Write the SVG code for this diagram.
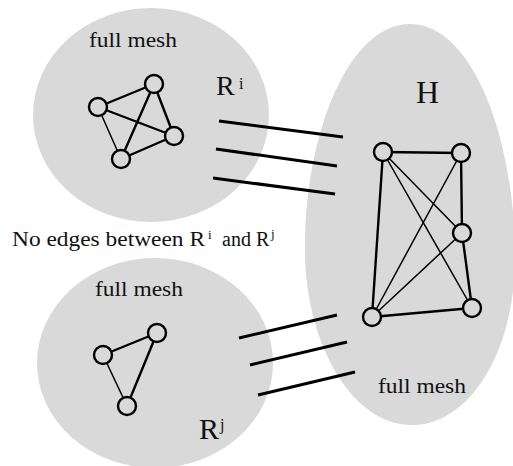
<svg xmlns="http://www.w3.org/2000/svg" width="513" height="466" viewBox="0 0 513 466">
<style>
.region{fill:#d9d9d9;stroke:none}
.node{fill:#d9d9d9;stroke:#000;stroke-width:2.4}
.e{stroke:#000;stroke-width:2.4;fill:none;stroke-linecap:round}
.t{stroke-width:1.5}
.link{stroke:#000;stroke-width:3;stroke-linecap:butt}
.lbl{font-family:"Liberation Serif","DejaVu Serif","Times New Roman",serif;fill:#111}
</style>
<rect width="513" height="466" fill="#fff"/>
<g id="region-Ri">
<ellipse class="region" cx="151" cy="115" rx="118" ry="107"/>
<text class="lbl" x="89" y="47" font-size="20" textLength="88" lengthAdjust="spacingAndGlyphs">full mesh</text>
<text class="lbl" x="216" y="95" font-size="28">R</text>
<text class="lbl" x="239" y="89" font-size="16">i</text>
</g>
<g id="region-Rj">
<ellipse class="region" cx="155" cy="363" rx="118" ry="105"/>
<text class="lbl" x="95" y="296" font-size="20" textLength="88" lengthAdjust="spacingAndGlyphs">full mesh</text>
<text class="lbl" x="199" y="439" font-size="30">R</text>
<text class="lbl" x="220" y="430" font-size="16">j</text>
</g>
<g id="region-H">
<path class="region" d="M410 24 C470 24 513 130 515 250 C517 350 470 425 412 425 C350 425 305 340 305 250 C305 130 350 24 410 24 Z"/>
<text class="lbl" x="416" y="103" font-size="32">H</text>
<text class="lbl" x="378" y="393" font-size="20" textLength="88" lengthAdjust="spacingAndGlyphs">full mesh</text>
</g>
<g id="caption">
<text class="lbl" x="12" y="246" font-size="21" textLength="193" lengthAdjust="spacingAndGlyphs">No edges between R</text>
<text class="lbl" x="208" y="239" font-size="13">i</text>
<text class="lbl" x="222" y="246" font-size="20">and R</text>
<text class="lbl" x="271" y="238" font-size="13">j</text>
</g>
<g id="connectors">
<line class="e" x1="154" y1="84" x2="98" y2="107"/>
<line class="e" x1="98" y1="107" x2="174" y2="136"/>
<line class="e" x1="154" y1="84" x2="174" y2="136"/>
<line class="e" x1="154" y1="84" x2="121" y2="159"/>
<line class="e t" x1="98" y1="107" x2="121" y2="159"/>
<line class="e" x1="174" y1="136" x2="121" y2="159"/>
<line class="e" x1="157" y1="333" x2="103" y2="355"/>
<line class="e t" x1="103" y1="355" x2="127" y2="406"/>
<line class="e" x1="157" y1="333" x2="127" y2="406"/>
<line class="e" x1="383" y1="152" x2="461" y2="153"/>
<line class="e" x1="383" y1="152" x2="372" y2="317"/>
<line class="e t" x1="383" y1="152" x2="462" y2="233"/>
<line class="e t" x1="383" y1="152" x2="472" y2="308"/>
<line class="e t" x1="461" y1="153" x2="372" y2="317"/>
<line class="e" x1="461" y1="153" x2="462" y2="233"/>
<line class="e t" x1="462" y1="233" x2="372" y2="317"/>
<line class="e" x1="462" y1="233" x2="472" y2="308"/>
<line class="e" x1="472" y1="308" x2="372" y2="317"/>
<line class="link" x1="219" y1="121" x2="343" y2="137"/>
<line class="link" x1="216" y1="149" x2="337" y2="166"/>
<line class="link" x1="213" y1="178" x2="335" y2="194"/>
<line class="link" x1="239" y1="338" x2="337" y2="315"/>
<line class="link" x1="250" y1="365" x2="347" y2="342"/>
<line class="link" x1="258" y1="395" x2="355" y2="372"/>
</g>
<g id="ri-a"><circle class="node" cx="154" cy="84" r="9"/></g>
<g id="ri-b"><circle class="node" cx="98" cy="107" r="9"/></g>
<g id="ri-c"><circle class="node" cx="174" cy="136" r="9"/></g>
<g id="ri-d"><circle class="node" cx="121" cy="159" r="9"/></g>
<g id="rj-a"><circle class="node" cx="157" cy="333" r="9"/></g>
<g id="rj-b"><circle class="node" cx="103" cy="355" r="9"/></g>
<g id="rj-c"><circle class="node" cx="127" cy="406" r="9"/></g>
<g id="h-1"><circle class="node" cx="383" cy="152" r="9"/></g>
<g id="h-2"><circle class="node" cx="461" cy="153" r="9"/></g>
<g id="h-3"><circle class="node" cx="462" cy="233" r="9"/></g>
<g id="h-4"><circle class="node" cx="472" cy="308" r="9"/></g>
<g id="h-5"><circle class="node" cx="372" cy="317" r="9"/></g>
</svg>
